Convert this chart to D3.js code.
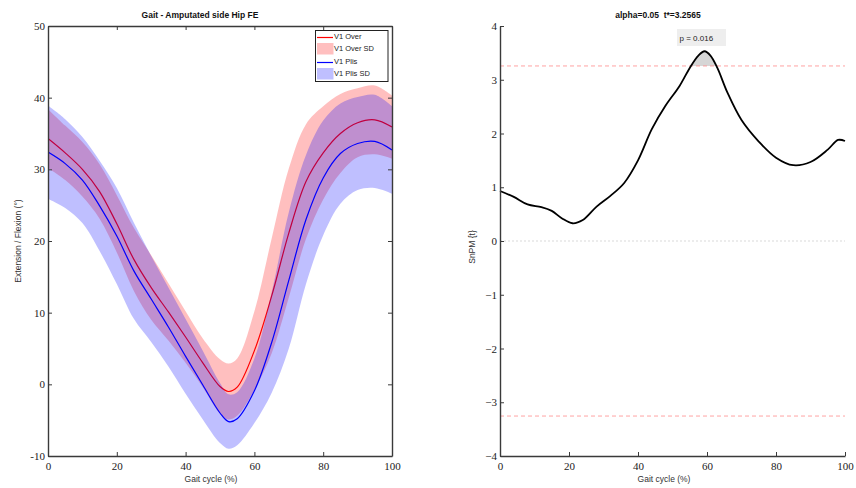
<!DOCTYPE html>
<html>
<head>
<meta charset="utf-8">
<script src="https://cdn.jsdelivr.net/npm/d3@7"></script>
<style>
  body { margin: 0; background: #fff; }
  svg text { font-family: "Liberation Sans", Arial, sans-serif; }
  .tick text { font-family: "Liberation Serif", "DejaVu Serif", serif; font-size: 11px; fill: #222; }
</style>
</head>
<body>
<svg id="chart" width="856" height="488"></svg>
<script>
// gait cycle sample points (%)
const gaitPct = [0, 5, 10, 15, 20, 25, 30, 35, 40, 45, 50, 52.5, 55, 60, 65, 70, 75, 80, 85, 90, 95, 100];

// V1 Over (red)
const overMean = [34.3, 32.3, 30.0, 26.9, 22.4, 17.4, 13.5, 10.1, 6.6, 3.0, -0.3, -1.0, -0.4, 4.7, 12.3, 21.1, 28.3, 32.3, 35.0, 36.5, 36.9, 35.9];
const overSD   = [4.1, 3.8, 3.8, 3.8, 4.0, 4.4, 4.5, 4.0, 3.6, 3.4, 3.8, 3.9, 4.0, 5.5, 8.0, 9.0, 8.0, 6.5, 5.5, 4.8, 4.8, 4.4];

// V1 Plis (blue)
const plisMean = [32.4, 30.8, 28.5, 24.9, 20.7, 15.8, 11.9, 8.0, 3.9, -0.1, -4.0, -5.2, -4.8, -0.9, 5.8, 14.5, 23.0, 28.8, 32.2, 33.6, 33.9, 32.7];
const plisSD   = [6.5, 6.2, 6.0, 6.3, 6.7, 6.7, 6.0, 5.5, 5.2, 4.8, 4.2, 3.8, 3.7, 4.5, 7.0, 9.5, 9.0, 8.0, 7.0, 6.5, 6.5, 6.1];

// SnPM {t} curve
const spmX = [0, 4, 8, 12, 15, 18, 21, 24, 28, 32, 36, 40, 44, 48, 52, 55, 57.5, 59.3, 61, 63, 66, 70, 75, 80, 85, 90, 95, 98, 100];
const spmT = [0.93, 0.82, 0.68, 0.63, 0.56, 0.42, 0.33, 0.39, 0.64, 0.84, 1.08, 1.50, 2.08, 2.52, 2.88, 3.22, 3.45, 3.53, 3.45, 3.22, 2.75, 2.25, 1.85, 1.55, 1.41, 1.47, 1.70, 1.88, 1.86];
const tStar = 3.2565;
const pLabel = "p = 0.016";

const xTicks = [0, 20, 40, 60, 80, 100];
const leftYTicks = [-10, 0, 10, 20, 30, 40, 50];
const rightYTicks = [-4, -3, -2, -1, 0, 1, 2, 3, 4];

const svg = d3.select("#chart");
const axisColor = "#3a3a3a";
const curve = d3.curveCatmullRom.alpha(0.5);

function styleAxis(g) {
  g.select(".domain").attr("stroke", axisColor).attr("stroke-width", 1.4);
  g.selectAll(".tick line").attr("stroke", axisColor).attr("stroke-width", 1);
}

// ---------------- left panel ----------------
const xL = d3.scaleLinear().domain([0, 100]).range([48, 392]);
const yL = d3.scaleLinear().domain([-10, 50]).range([456, 26]);

const gL = svg.append("g");
gL.append("defs").append("clipPath").attr("id", "clipL")
  .append("rect").attr("x", 48).attr("y", 26).attr("width", 344).attr("height", 430);

const plot = gL.append("g").attr("clip-path", "url(#clipL)");
const rows = gaitPct.map((x, i) => ({ x, om: overMean[i], os: overSD[i], pm: plisMean[i], ps: plisSD[i] }));

const lineOver = d3.line().x(d => xL(d.x)).y(d => yL(d.om)).curve(curve);
const areaOver = d3.area().x(d => xL(d.x)).y0(d => yL(d.om - d.os)).y1(d => yL(d.om + d.os)).curve(curve);
const linePlis = d3.line().x(d => xL(d.x)).y(d => yL(d.pm)).curve(curve);
const areaPlis = d3.area().x(d => xL(d.x)).y0(d => yL(d.pm - d.ps)).y1(d => yL(d.pm + d.ps)).curve(curve);

plot.append("path").datum(rows).attr("d", lineOver).attr("fill", "none").attr("stroke", "#ff0000").attr("stroke-width", 1.2);
plot.append("path").datum(rows).attr("d", areaOver).attr("fill", "#ff0000").attr("fill-opacity", 0.25);
plot.append("path").datum(rows).attr("d", linePlis).attr("fill", "none").attr("stroke", "#0000ff").attr("stroke-width", 1.2);
plot.append("path").datum(rows).attr("d", areaPlis).attr("fill", "#0000ff").attr("fill-opacity", 0.25);

gL.append("g").attr("transform", "translate(0,456)")
  .call(d3.axisBottom(xL).tickValues(xTicks).tickSize(-4).tickSizeOuter(0).tickPadding(6))
  .call(styleAxis);
gL.append("g").attr("transform", "translate(48,0)")
  .call(d3.axisLeft(yL).tickValues(leftYTicks).tickFormat(d => d < 0 ? "-" + Math.abs(d) : d).tickSize(-4).tickSizeOuter(0).tickPadding(3))
  .call(styleAxis);
gL.append("g").attr("transform", "translate(0,26)")
  .call(d3.axisTop(xL).tickValues(xTicks).tickFormat("").tickSize(-4).tickSizeOuter(0))
  .call(styleAxis);
gL.append("g").attr("transform", "translate(392,0)")
  .call(d3.axisRight(yL).tickValues(leftYTicks).tickFormat("").tickSize(-4).tickSizeOuter(0))
  .call(styleAxis);

gL.append("text").attr("x", 200).attr("y", 18).attr("text-anchor", "middle")
  .attr("font-size", 8.5).attr("font-weight", "bold").attr("fill", "#111").text("Gait - Amputated side Hip FE");
gL.append("text").attr("x", 211).attr("y", 482).attr("text-anchor", "middle")
  .attr("font-size", 8.5).attr("fill", "#333").text("Gait cycle (%)");
gL.append("text").attr("transform", "translate(21,241) rotate(-90)").attr("text-anchor", "middle")
  .attr("font-size", 8.5).attr("fill", "#333").text("Extension / Flexion (°)");

// legend
const leg = gL.append("g");
leg.append("rect").attr("x", 315.5).attr("y", 30.5).attr("width", 72.5).attr("height", 51)
  .attr("fill", "#fff").attr("stroke", "#222").attr("stroke-width", 1);
const legItems = [
  { label: "V1 Over", kind: "line", color: "#ff0000", y: 36 },
  { label: "V1 Over SD", kind: "patch", color: "#ff0000", y: 48.5 },
  { label: "V1 Plis", kind: "line", color: "#0000ff", y: 61 },
  { label: "V1 Plis SD", kind: "patch", color: "#0000ff", y: 73.5 }
];
legItems.forEach(it => {
  if (it.kind === "line") {
    leg.append("line").attr("x1", 317).attr("x2", 333).attr("y1", it.y + 1.5).attr("y2", it.y + 1.5)
      .attr("stroke", it.color).attr("stroke-width", 1.2);
  } else {
    leg.append("rect").attr("x", 317).attr("y", it.y - 5.5).attr("width", 16.5).attr("height", 11.5)
      .attr("fill", it.color).attr("fill-opacity", 0.25);
  }
  leg.append("text").attr("x", 334).attr("y", it.y + 2.6).attr("font-size", 7.5).attr("fill", "#222").text(it.label);
});

// ---------------- right panel ----------------
const xR = d3.scaleLinear().domain([0, 100]).range([500, 845]);
const yR = d3.scaleLinear().domain([-4, 4]).range([456, 26]);
const gR = svg.append("g");
const pts = spmX.map((x, i) => ({ x, t: spmT[i] }));

// zero line
gR.append("line").attr("x1", xR(0)).attr("x2", xR(100)).attr("y1", yR(0)).attr("y2", yR(0))
  .attr("stroke", "#c8c8c8").attr("stroke-width", 0.7).attr("stroke-dasharray", "2,2");

// supra-threshold cluster
gR.append("defs").append("clipPath").attr("id", "clipT")
  .append("rect").attr("x", xR(0)).attr("y", yR(4)).attr("width", xR(100) - xR(0)).attr("height", yR(tStar) - yR(4));
gR.append("path").datum(pts)
  .attr("d", d3.area().x(d => xR(d.x)).y0(yR(tStar)).y1(d => yR(d.t)).curve(curve))
  .attr("fill", "#d6d6d6").attr("clip-path", "url(#clipT)");

// thresholds
[tStar, -tStar].forEach(v => {
  gR.append("line").attr("x1", xR(0)).attr("x2", xR(100)).attr("y1", yR(v)).attr("y2", yR(v))
    .attr("stroke", "#ff8c8c").attr("stroke-width", 0.8).attr("stroke-dasharray", "4,3");
});

gR.append("path").datum(pts)
  .attr("d", d3.line().x(d => xR(d.x)).y(d => yR(d.t)).curve(curve))
  .attr("fill", "none").attr("stroke", "#000").attr("stroke-width", 1.8);

gR.append("g").attr("transform", "translate(0,456)")
  .call(d3.axisBottom(xR).tickValues(xTicks).tickSize(-4).tickSizeOuter(0).tickPadding(6))
  .call(styleAxis);
gR.append("g").attr("transform", "translate(500,0)")
  .call(d3.axisLeft(yR).tickValues(rightYTicks).tickSize(-4).tickSizeOuter(0).tickPadding(3))
  .call(styleAxis);

// p box
gR.append("rect").attr("x", 677).attr("y", 29).attr("width", 49).attr("height", 17).attr("fill", "#eeeeee");
gR.append("text").attr("x", 679.5).attr("y", 40.5).attr("font-size", 8).attr("fill", "#222").text(pLabel);

gR.append("text").attr("x", 658).attr("y", 18).attr("text-anchor", "middle")
  .attr("font-size", 8.5).attr("font-weight", "bold").attr("fill", "#111")
  .style("white-space", "pre").text("alpha=0.05  t*=" + tStar);
gR.append("text").attr("x", 664).attr("y", 482).attr("text-anchor", "middle")
  .attr("font-size", 8.5).attr("fill", "#333").text("Gait cycle (%)");
gR.append("text").attr("transform", "translate(475,247) rotate(-90)").attr("text-anchor", "middle")
  .attr("font-size", 8.5).attr("fill", "#333").text("SnPM {t}");
</script>
</body>
</html>
